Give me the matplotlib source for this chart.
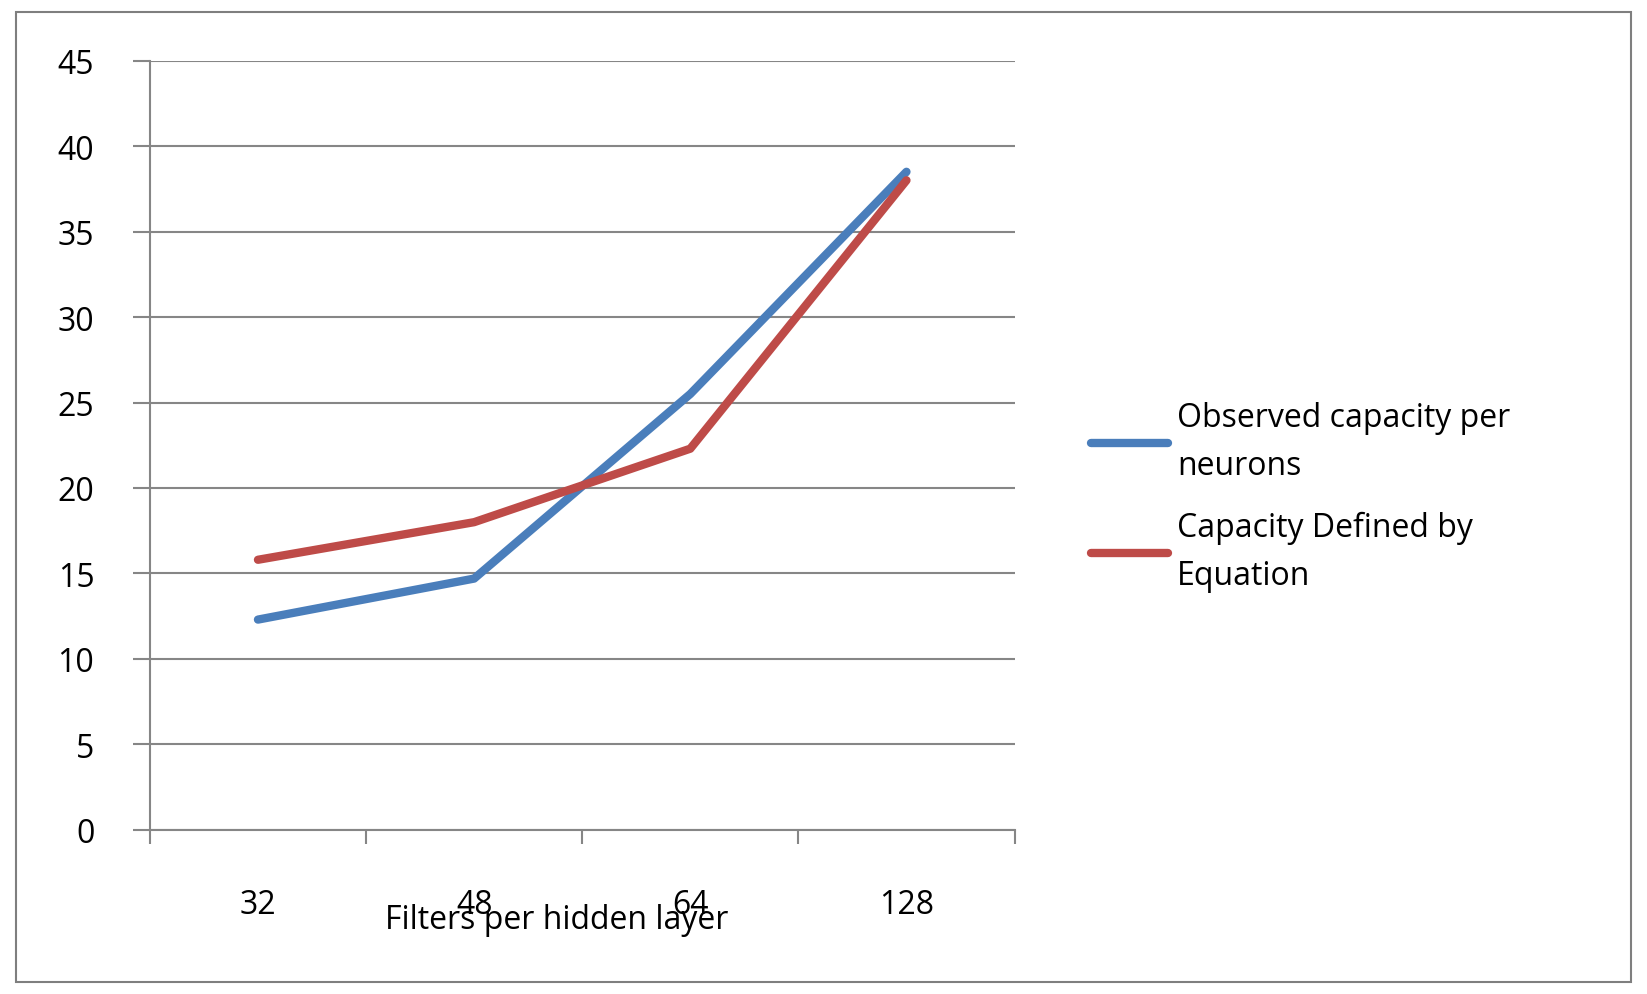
import matplotlib
matplotlib.use("Agg")
import matplotlib.pyplot as plt
from matplotlib.patches import Rectangle

categories = ["32", "48", "64", "128"]
observed = [12.3, 14.7, 25.5, 38.5]
equation = [15.8, 18.0, 22.3, 38.0]

plt.rcParams['font.family'] = ['Open Sans', 'DejaVu Sans']
fig = plt.figure(figsize=(16.47, 9.95), dpi=100)
fig.patches.append(Rectangle((0.010, 0.012), 0.980, 0.975, transform=fig.transFigure,
                             fill=False, edgecolor='#7f7f7f', linewidth=1.5))
ax = fig.add_axes([0.091, 0.165, 0.525, 0.773])
x = list(range(len(categories)))
ax.plot(x, observed, color='#4a7ebb', linewidth=6, label='Observed capacity per\nneurons', solid_capstyle='round')
ax.plot(x, equation, color='#be4b48', linewidth=6, label='Capacity Defined by\nEquation', solid_capstyle='round')
ax.set_xlim(-0.5, 3.5)
ax.set_ylim(0, 45)
ax.set_yticks(range(0, 46, 5))
ax.set_xticks(x)
ax.set_xticklabels(categories)
ax.set_xticks([-0.5, 0.5, 1.5, 2.5, 3.5], minor=True)
ax.tick_params(axis='x', which='major', length=0, pad=42, labelsize=23)
ax.tick_params(axis='x', which='minor', length=10, color='#868686', width=1.5, direction='out')
ax.tick_params(axis='y', length=12, color='#868686', width=1.5, labelsize=23, pad=28)
ax.grid(axis='y', color='#868686', linewidth=1.5)
ax.set_axisbelow(True)
for s in ['top', 'right']:
    ax.spines[s].set_visible(False)
for s in ['left', 'bottom']:
    ax.spines[s].set_color('#868686')
    ax.spines[s].set_linewidth(1.5)
ax.set_xlabel('Filters per hidden layer', fontsize=23, labelpad=0)
ax.xaxis.set_label_coords(0.47, -0.095)
leg = fig.legend(loc='center left', bbox_to_anchor=(0.645, 0.5), frameon=False, fontsize=23,
                 handlelength=2.4, labelspacing=0.9, handletextpad=0.3)
for t in leg.get_texts():
    t.set_linespacing(1.6)
fig.savefig('out.png', dpi=100)
